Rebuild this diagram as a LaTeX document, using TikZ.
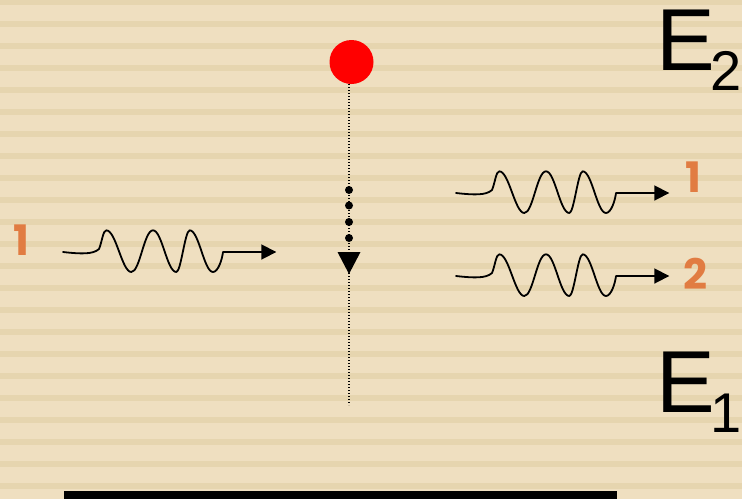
\documentclass[tikz,border=0pt]{standalone}
\usepackage{fontspec}
\setmainfont{Liberation Sans}
\newfontfamily\numfont{Poppins}
\usetikzlibrary{arrows.meta}
\definecolor{bgc}{RGB}{239,223,192}
\definecolor{stripec}{RGB}{230,213,175}
\definecolor{orng}{RGB}{225,124,66}
\newcommand{\levelsub}[1]{\raisebox{-20pt}{\fontsize{56}{56}\selectfont #1}}
\tikzset{
  wavestyle/.style={line width=1.8pt, black, line cap=round, line join=round},
  photon/.pic={
    \draw[wavestyle, -{Triangle[length=15pt,width=15pt]}]
      (0,0) .. controls (18,2) and (30,2.5) .. (36,-3)
      .. controls (39,-10) and (40,-21.7) .. (43.3,-21.7)
      .. controls (53,-21.7) and (59,20) .. (68.3,20)
      .. controls (77,20) and (81,-21.7) .. (90,-21.7)
      .. controls (99,-21.7) and (104,20) .. (113.3,20)
      .. controls (118,20) and (122,-21.7) .. (126.7,-21.7)
      .. controls (136,-21.7) and (141,20) .. (150,20)
      .. controls (155,20) and (159,8) .. (160,0)
      -- (213.3,0);
  },
  dotline/.style={line width=1.4pt, dash pattern=on 1.4pt off 1.6pt},
  bigdot/.style={circle, fill=black, inner sep=0pt, minimum size=8pt},
  numlabel/.style={text=orng, font=\numfont\bfseries\fontsize{42}{42}\selectfont, inner sep=0pt},
  elabel/.style={font=\fontsize{88}{88}\selectfont, inner sep=0pt, anchor=base west}
}
\begin{document}
\begin{tikzpicture}[x=1pt,y=-1pt]
\useasboundingbox (0,0) rectangle (742,499);
\clip (0,0) rectangle (742,499);
\fill[bgc] (0,0) rectangle (742,499);
\foreach \k in {0,...,22} {
  \fill[stripec] (0,22*\k-1) rectangle (742,22*\k+5);
}
% atom and decay line
\node[circle, fill=red, minimum size=44pt, inner sep=0pt] (atom) at (351.5,62) {};
\coordinate (ltop) at (349,84);
\coordinate (lbot) at (349,405);
\draw[dotline] (ltop) -- (lbot);
\node[bigdot] (d1) at (349,190) {};
\node[bigdot] (d2) at (349,205.5) {};
\node[bigdot] (d3) at (349,222) {};
\node[bigdot] (d4) at (349,238) {};
\fill (337.5,252) -- (360.5,252) -- (349,274) -- cycle;
% photons
\pic at (63,252) {photon};
\pic at (456,193) {photon};
\pic at (456,276) {photon};
% labels
\node[numlabel] (n1) at (21,240) {1};
\node[numlabel] (n2) at (693,177) {1};
\node[numlabel] (n3) at (695,274) {2};
% energy levels
\node[elabel] (e2) at (656,70) {E\kern-4pt\levelsub{2}};
\node[elabel] (e1) at (656,412) {E\kern-4pt\levelsub{1}};
% bottom bar
\fill[black] (64,491) rectangle (617,499);
\end{tikzpicture}
\end{document}
